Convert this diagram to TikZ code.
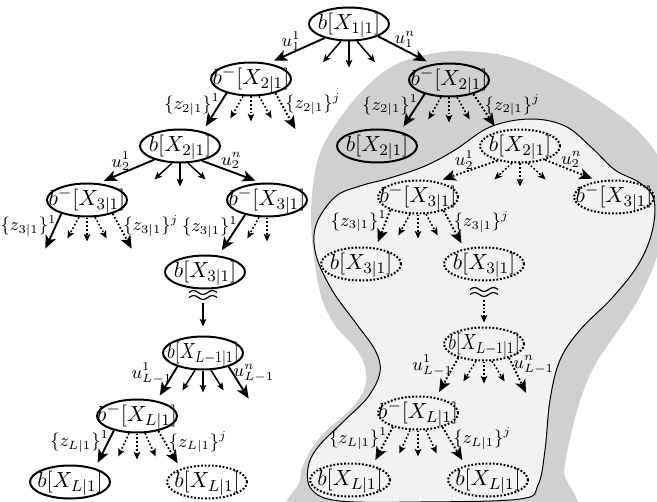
\documentclass[tikz,border=0pt]{standalone}
\usepackage{graphicx}
\usetikzlibrary{shapes.geometric,arrows.meta}
\definecolor{outerfill}{RGB}{208,208,210}
\definecolor{innerfill}{RGB}{242,242,242}
% centred, zero-size label so that the ellipse keeps its fixed size;
% the optional argument squeezes a long label horizontally
\newcommand\ntext[2][1]{\makebox[0pt]{\raisebox{-2.75pt}[0pt][0pt]{\scalebox{#1}[1]{$#2$}}}}

\begin{document}
\begin{tikzpicture}[x=0.5pt,y=-0.5pt,
  st/.style={ellipse,draw,line width=1pt,minimum width=40pt,minimum height=16.5pt,
             inner sep=0pt,font=\fontsize{11}{13}\selectfont},
  dt/.style={st,dash pattern=on 0.9pt off 0.9pt},
  big/.style={line width=0.95pt,-{Stealth[length=6.5pt,width=5.5pt,inset=1.6pt]}},
  tn/.style={shorten >=3pt},
  sm/.style={line width=0.75pt,-{Stealth[length=3.8pt,width=3.3pt,inset=0.9pt]}},
  dotln/.style={dash pattern=on 0.9pt off 1pt},
  lab/.style={font=\fontsize{9}{11}\selectfont,inner sep=1pt},
  lft/.style={lab,left=-1.8pt},
  rgt/.style={lab,right=0.5pt},
  wave/.pic={
    \draw[line width=0.6pt] (-14,-2.5) sin (-9.33,-4.5) cos (-4.67,-2.5) sin (0,-0.5)
         cos (4.67,-2.5) sin (9.33,-4.5) cos (14,-2.5);
    \draw[line width=0.6pt] (-14,2.5) sin (-9.33,0.5) cos (-4.67,2.5) sin (0,4.5)
         cos (4.67,2.5) sin (9.33,0.5) cos (14,2.5);
  }
]
\useasboundingbox (0,0) rectangle (657,502);

% shaded regions
\begin{scope}
\clip (0,0) rectangle (657,502);
\fill[outerfill] plot[smooth cycle,tension=0.6] coordinates {
  (425,55) (462,51) (510,57) (560,78) (605,105) (640,133) (662,165) (666,205)
  (660,245) (650,275) (635,305) (615,335) (595,365) (582,395) (572,430) (564,470)
  (558,520) (305,520) (300,480) (308,455) (325,432) (348,412) (363,392) (366,372)
  (357,350) (337,328) (323,302) (315,265) (311,220) (314,178) (322,148) (340,118)
  (365,88) (393,66)};
\draw[fill=innerfill,line width=0.5pt] plot[smooth cycle,tension=0.6] coordinates {
  (335,197) (360,186) (390,178) (425,166) (455,150) (490,127) (530,119) (565,126)
  (592,148) (615,170) (640,183) (654,200) (652,232) (638,265) (612,298) (580,330)
  (560,360) (550,400) (545,450) (538,485) (520,499) (420,502) (340,501) (312,490)
  (308,468) (318,447) (345,420) (368,397) (380,372) (375,350) (355,322) (332,290)
  (316,255) (316,225)};
\end{scope}

% left tree
\node[st] (r)  at (349,24)  {\ntext{b[X_{1|1}]}};
\node[st] (a1) at (251,79)  {\ntext{b^-[X_{2|1}]}};
\node[st] (a2) at (180,146) {\ntext{b[X_{2|1}]}};
\node[st] (a3) at (87,200)  {\ntext{b^-[X_{3|1}]}};
\node[st] (a4) at (267,200) {\ntext{b^-[X_{3|1}]}};
\node[st] (a5) at (205,272) {\ntext{b[X_{3|1}]}};
\node[st] (a6) at (203,353) {\ntext[0.82]{b[X_{L-1|1}]}};
\node[st] (a7) at (137,416) {\ntext{b^-[X_{L|1}]}};
\node[st] (a8) at (70,482)  {\ntext{b[X_{L|1}]}};
\node[dt] (a9) at (207,482) {\ntext{b[X_{L|1}]}};

% right tree
\node[st] (b1)  at (449,80)  {\ntext{b^-[X_{2|1}]}};
\node[st] (b2)  at (377,146) {\ntext{b[X_{2|1}]}};
\node[dt] (b3)  at (520,146) {\ntext{b[X_{2|1}]}};
\node[dt] (b4)  at (418,197) {\ntext{b^-[X_{3|1}]}};
\node[dt] (b5)  at (614,197) {\ntext{b^-[X_{3|1}]}};
\node[dt] (b6)  at (361,264) {\ntext{b[X_{3|1}]}};
\node[dt] (b7)  at (484,264) {\ntext{b[X_{3|1}]}};
\node[dt] (b8)  at (484,344) {\ntext[0.82]{b[X_{L-1|1}]}};
\node[dt] (b9)  at (418,413) {\ntext{b^-[X_{L|1}]}};
\node[dt] (b10) at (350,480) {\ntext{b[X_{L|1}]}};
\node[dt] (b11) at (488,480) {\ntext{b[X_{L|1}]}};

% omitted levels
\coordinate (w1) at (203,295);
\coordinate (w2) at (484,292);
\pic at (w1) {wave};
\pic at (w2) {wave};

% root
\draw[big,tn] (r.-150) -- node[lab,above,pos=0.6]{$u_1^1$} (a1.42);
\draw[big,tn] (r.-23) -- node[lab,above,pos=0.5]{$u_1^n$} (b1.137);
\draw[sm] (r.-115) -- ++(-18,21);
\draw[sm] (r.-90) -- ++(0,26);
\draw[sm] (r.-65) -- ++(18,21);

% a1
\draw[big,tn] (a1.-150) -- node[lft,pos=0.3]{$\{z_{2|1}\}^1$} (a2.33);
\draw[big,dotln] (a1.-30) -- node[rgt,pos=0.3]{$\{z_{2|1}\}^j$} ++(20,36);
\draw[sm,dotln] (a1.-115) -- ++(-12.6,22.2);
\draw[sm,dotln] (a1.-90) -- ++(0,25);
\draw[sm,dotln] (a1.-65) -- ++(12.6,22.2);

% b1
\draw[big,tn] (b1.-150) -- node[lft,pos=0.3]{$\{z_{2|1}\}^1$} (b2.32);
\draw[big,tn,dotln] (b1.-30) -- node[rgt,pos=0.3]{$\{z_{2|1}\}^j$} (b3.146);
\draw[sm,dotln] (b1.-115) -- ++(-12.6,22.2);
\draw[sm,dotln] (b1.-90) -- ++(0,25);
\draw[sm,dotln] (b1.-65) -- ++(12.6,22.2);

% a2
\draw[big,tn] (a2.-152) -- node[lab,above,pos=0.6]{$u_2^1$} (a3.56);
\draw[big,tn] (a2.-34) -- node[lab,above,pos=0.5]{$u_2^n$} (a4.109);
\draw[sm] (a2.-115) -- ++(-17.6,16.2);
\draw[sm] (a2.-90) -- ++(0,23);
\draw[sm] (a2.-65) -- ++(17.6,16.2);

% b3
\draw[big,tn,dotln] (b3.-147) -- node[lab,above,pos=0.55]{$u_2^1$} (b4.39);
\draw[big,tn,dotln] (b3.-29) -- node[lab,above,pos=0.5]{$u_2^n$} (b5.135);
\draw[sm,dotln] (b3.-115) -- ++(-17.6,16.2);
\draw[sm,dotln] (b3.-90) -- ++(0,23);
\draw[sm,dotln] (b3.-65) -- ++(17.6,16.2);

% a3
\draw[big] (a3.-152) -- node[lft,pos=0.35]{$\{z_{3|1}\}^1$} ++(-16,35);
\draw[big,dotln] (a3.-28) -- node[rgt,pos=0.35]{$\{z_{3|1}\}^j$} ++(19,35);
\draw[sm,dotln] (a3.-115) -- ++(-11.6,21.2);
\draw[sm,dotln] (a3.-90) -- ++(0,24);
\draw[sm,dotln] (a3.-65) -- ++(11.6,21.2);

% a4
\draw[big,tn] (a4.-146) -- node[lft,pos=0.3]{$\{z_{3|1}\}^1$} (a5.51);
\draw[sm,dotln] (a4.-115) -- ++(-11.6,21.2);
\draw[sm,dotln] (a4.-90) -- ++(0,24);

% b4
\draw[big,tn,dotln] (b4.-155) -- node[lft,pos=0.3]{$\{z_{3|1}\}^1$} (b6.48);
\draw[big,tn,dotln] (b4.-28) -- node[rgt,pos=0.3]{$\{z_{3|1}\}^j$} (b7.142);
\draw[sm,dotln] (b4.-115) -- ++(-11.6,21.2);
\draw[sm,dotln] (b4.-90) -- ++(0,24);
\draw[sm,dotln] (b4.-65) -- ++(11.6,21.2);

% down to level L-1
\draw[sm,shorten >=4.5pt] ([yshift=-4pt]w1) -- (a6.north);
\draw[sm,dotln,shorten >=2pt] ([yshift=-4pt]w2) -- (b8.north);

% a6
\draw[big,tn] (a6.-152) -- node[lab,left=-1pt,pos=0.2]{$u_{L-1}^1$} (a7.38);
\draw[big] (a6.-28) -- node[lab,right=-1pt,pos=0.2]{$u_{L-1}^n$} ++(20,32);
\draw[sm] (a6.-115) -- ++(-12.6,20.2);
\draw[sm] (a6.-90) -- ++(0,22);
\draw[sm] (a6.-65) -- ++(12.6,20.2);

% b8
\draw[big,tn,dotln] (b8.-152) -- node[lab,left=-1pt,pos=0.2]{$u_{L-1}^1$} (b9.41);
\draw[big,dotln] (b8.-29) -- node[lab,right=-1pt,pos=0.2]{$u_{L-1}^n$} ++(17,35);
\draw[sm,dotln] (b8.-115) -- ++(-12.6,20.2);
\draw[sm,dotln] (b8.-90) -- ++(0,22);
\draw[sm,dotln] (b8.-65) -- ++(12.6,20.2);

% a7
\draw[big,tn] (a7.-148) -- node[lft,pos=0.3]{$\{z_{L|1}\}^1$} (a8.29);
\draw[big,tn,dotln] (a7.-35) -- node[rgt,pos=0.3]{$\{z_{L|1}\}^j$} (a9.153);
\draw[sm,dotln] (a7.-115) -- ++(-10.6,23.2);
\draw[sm,dotln] (a7.-90) -- ++(0,26);
\draw[sm,dotln] (a7.-65) -- ++(10.6,23.2);

% b9
\draw[big,tn,dotln] (b9.-151) -- node[lft,pos=0.3]{$\{z_{L|1}\}^1$} (b10.33);
\draw[big,tn,dotln] (b9.-30) -- node[rgt,pos=0.3]{$\{z_{L|1}\}^j$} (b11.147);
\draw[sm,dotln] (b9.-115) -- ++(-10.6,23.2);
\draw[sm,dotln] (b9.-90) -- ++(0,26);
\draw[sm,dotln] (b9.-65) -- ++(10.6,23.2);
\end{tikzpicture}
\end{document}
